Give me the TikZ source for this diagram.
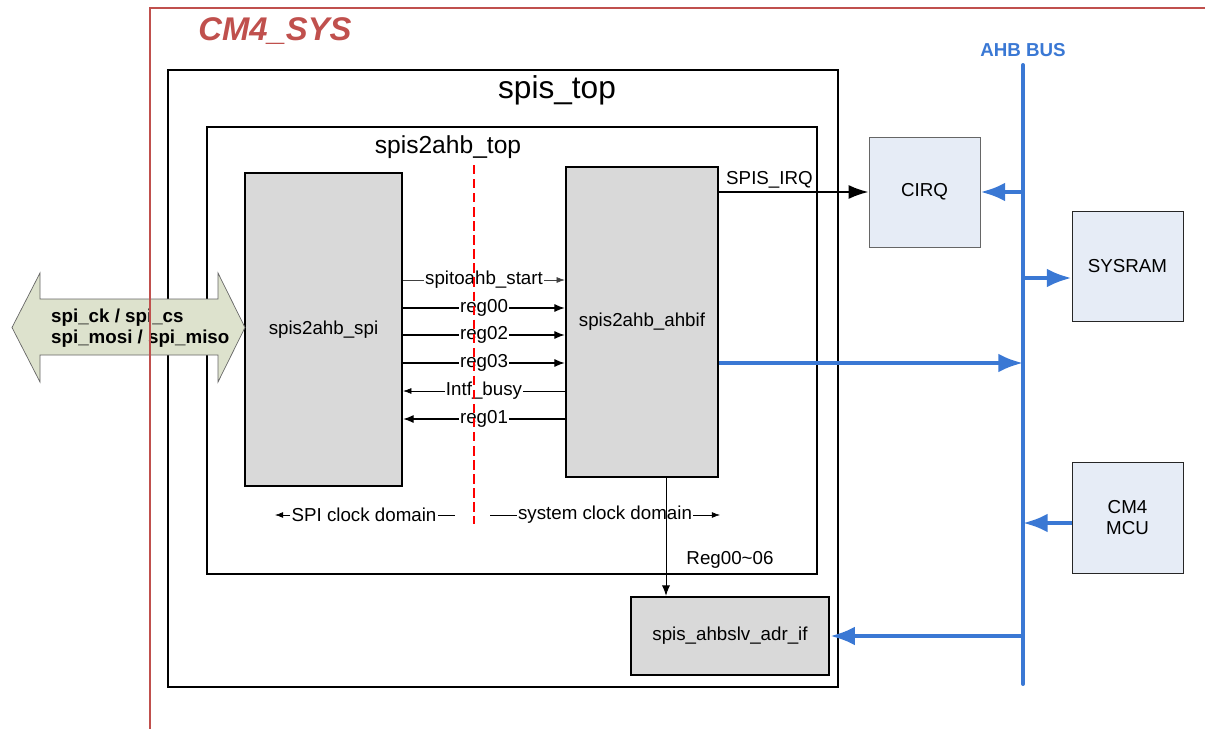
\documentclass[tikz,border=0pt]{standalone}
\usepackage{fontspec}
\setmainfont{Liberation Sans}
\usetikzlibrary{arrows.meta,calc}
\definecolor{cmred}{RGB}{192,80,77}
\definecolor{busblue}{RGB}{58,120,212}
\definecolor{boxgray}{RGB}{217,217,217}
\definecolor{boxblue}{RGB}{230,236,246}
\definecolor{arrowgreen}{RGB}{221,226,205}
\begin{document}
\begin{tikzpicture}[x=0.03cm,y=-0.03cm,
  txt/.style={font=\fontsize{16}{19}\selectfont},
  graybox/.style={draw=black, line width=2pt, fill=boxgray, inner sep=0pt, txt},
  bluebox/.style={draw=black!85, line width=0.8pt, fill=boxblue, align=center, inner sep=0pt, txt},
  frame/.style={draw=black, line width=1pt, inner sep=0pt},
  sig/.style={line width=1.2pt, -{Latex[length=9pt,width=7pt]}},
  thinsig/.style={line width=0.5pt, -{Latex[length=7pt,width=5pt]}},
  plain/.style={line width=0.6pt},
  busline/.style={draw=busblue, line width=3.4pt},
  busarrow/.style={draw=busblue, line width=3.4pt, -{Latex[length=21pt,width=16pt]}},
  siglabel/.style={fill=white, inner sep=1pt, txt}
]
\useasboundingbox (0,0) rectangle (1205,729);

% frames
\node[frame, minimum width=20.1cm, minimum height=18.51cm] (spistop) at (503,378.5) {};
\node[frame, minimum width=18.3cm, minimum height=13.41cm] (s2atop) at (512,350.5) {};
\node[font=\fontsize{27}{32}\selectfont] (spistoplbl) at (557,90) {spis\_top};
\node[font=\fontsize{21}{25}\selectfont] (s2atoplbl) at (448,147) {spis2ahb\_top};

% main blocks
\node[graybox, minimum width=4.71cm, minimum height=9.39cm] (spi) at (323.5,329.5) {spis2ahb\_spi};
\node[graybox, minimum width=4.56cm, minimum height=9.3cm] (ahbif) at (642,322) {spis2ahb\_ahbif};
\node[graybox, minimum width=5.94cm, minimum height=2.34cm] (adr) at (730,636) {spis\_ahbslv\_adr\_if};

% right blocks
\node[bluebox, draw=black!60, minimum width=3.33cm, minimum height=3.3cm] (cirq) at (924.5,192) {CIRQ};
\node[bluebox, minimum width=3.33cm, minimum height=3.3cm] (sysram) at (1127.5,266) {SYSRAM};
\node[bluebox, minimum width=3.33cm, minimum height=3.33cm] (mcu) at (1127.5,517.5) {CM4\\[-1pt]MCU};

% signals between spi and ahbif
\draw[thinsig, draw=black!75] (spi.east |- 0,280) -- node[siglabel]{spitoahb\_start} (ahbif.west |- 0,280);
\draw[sig] (spi.east |- 0,308) -- node[siglabel]{reg00} (ahbif.west |- 0,308);
\draw[sig] (spi.east |- 0,335) -- node[siglabel]{reg02} (ahbif.west |- 0,335);
\draw[sig] (spi.east |- 0,363) -- node[siglabel]{reg03} (ahbif.west |- 0,363);
\draw[thinsig] (ahbif.west |- 0,391) -- node[siglabel]{Intf\_busy} (spi.east |- 0,391);
\draw[sig] (ahbif.west |- 0,419) -- node[siglabel]{reg01} (spi.east |- 0,419);

% clock domains
\node[txt, inner sep=1pt] (spiclk) at (364,515) {SPI clock domain};
\coordinate (spiclkL) at (275,515);
\coordinate (spiclkR) at (455,515);
\draw[thinsig] (spiclk.west) -- (spiclkL);
\draw[plain] (spiclk.east) -- (spiclkR);
\node[txt, inner sep=1pt] (sysclk) at (605,515) {system clock domain};
\coordinate (sysclkL) at (490,515);
\coordinate (sysclkR) at (720,515);
\draw[plain] (sysclk.west) -- (sysclkL);
\draw[thinsig] (sysclk.east) -- (sysclkR);

% ahbif -> adr
\draw[line width=0.8pt, -{Latex[length=9pt,width=7pt]}] (ahbif.south -| 666,0) -- (adr.north -| 666,0);
\node[txt] (reglbl) at (730,560) {Reg00\textasciitilde06};

% SPIS_IRQ
\draw[line width=1.8pt, -{Latex[length=17pt,width=12pt]}] (ahbif.east |- cirq.west) -- (cirq.west);
\node[txt, anchor=west, inner sep=0pt] (irqlbl) at (726,180) {SPIS\_IRQ};

% AHB bus
\coordinate (bustop) at (1023,65);
\coordinate (busbot) at (1023,684);
\draw[busline, line cap=round] (bustop) -- (busbot);
\node[text=busblue, font=\bfseries\fontsize{16}{19}\selectfont] (buslbl) at (1023,50) {AHB BUS};
\draw[busarrow] (bustop |- cirq.east) -- (cirq.east);
\draw[busarrow] (bustop |- 0,278) -- (sysram.west |- 0,278);
\draw[busarrow] (ahbif.east |- 0,363) -- (bustop |- 0,363);
\draw[busarrow] (mcu.west |- 0,523) -- (bustop |- 0,523);
\draw[busarrow] (bustop |- adr.east) -- (adr.east);

% SPI interface double arrow
\draw[draw=black!60, line width=0.6pt, fill=arrowgreen]
  (12,327.5) -- (40,273) -- (40,299) -- (218,299) -- (218,273) -- (245,327.5)
  -- (218,382) -- (218,355) -- (40,355) -- (40,382) -- cycle;
\node[anchor=west, align=left, font=\bfseries\fontsize{16}{18.5}\selectfont, inner sep=0pt] (spiif) at (51,328) {spi\_ck / spi\_cs\\spi\_mosi / spi\_miso};

% clock domain boundary
\coordinate (cdtop) at (474,165);
\coordinate (cdbot) at (474,524);
\draw[red, line width=0.9pt, dash pattern=on 8pt off 4pt] (cdtop) -- (cdbot);

% CM4_SYS frame
\coordinate (cmA) at (150,729);
\coordinate (cmB) at (150,8);
\coordinate (cmC) at (1205,8);
\draw[cmred, line width=2pt] (cmA) -- (cmB) -- (cmC);
\node[text=cmred, font=\bfseries\itshape\fontsize{28}{33}\selectfont] (cmlbl) at (275,31) {CM4\_SYS};
\end{tikzpicture}
\end{document}
